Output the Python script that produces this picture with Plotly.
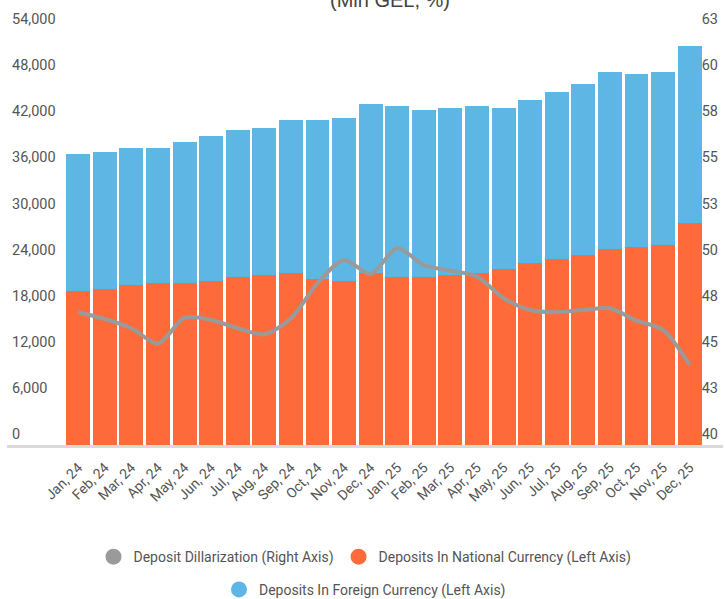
import plotly.graph_objects as go

months = [
    "Jan, 24", "Feb, 24", "Mar, 24", "Apr, 24", "May, 24", "Jun, 24",
    "Jul, 24", "Aug, 24", "Sep, 24", "Oct, 24", "Nov, 24", "Dec, 24",
    "Jan, 25", "Feb, 25", "Mar, 25", "Apr, 25", "May, 25", "Jun, 25",
    "Jul, 25", "Aug, 25", "Sep, 25", "Oct, 25", "Nov, 25", "Dec, 25",
]
national = [
    20040, 20300, 20820, 21080, 21080, 21340, 21860, 22120, 22380, 21600, 21340, 22380,
    21860, 21860, 22120, 22380, 22900, 23680, 24200, 24720, 25500, 25760, 26020, 28890,
]
foreign = [
    17830, 17830, 17830, 17570, 18350, 18870, 19130, 19130, 19910, 20690, 21210, 21990,
    22250, 21730, 21730, 21730, 20950, 21210, 21730, 22250, 23030, 22510, 22510, 23030,
]
dollarization = [
    47.2, 46.83, 46.33, 45.5, 46.9, 46.78, 46.33, 46.0, 46.87, 48.77, 50.03, 49.27,
    50.67, 49.76, 49.45, 49.13, 47.96, 47.32, 47.2, 47.32, 47.41, 46.74, 46.24, 44.34,
]

ORANGE = "#FF6A3A"
BLUE = "#5EB6E4"
GREY = "#9A9A9A"
FONT = "Roboto, sans-serif"
TXT = "#555555"

fig = go.Figure()
fig.add_trace(go.Bar(x=months, y=national, marker_color=ORANGE, marker_line_width=0,
                     showlegend=False, name="Deposits In National Currency (Left Axis)"))
fig.add_trace(go.Bar(x=months, y=foreign, marker_color=BLUE, marker_line_width=0,
                     showlegend=False, name="Deposits In Foreign Currency (Left Axis)"))
fig.add_trace(go.Scatter(x=months, y=dollarization, yaxis="y2", mode="lines",
                         line=dict(color=GREY, width=4, shape="spline", smoothing=0.8),
                         showlegend=False, name="Deposit Dillarization (Right Axis)"))

# legend entries drawn as round markers, split over two rows
for name, col, lg in [("Deposit Dillarization (Right Axis)", GREY, "legend"),
                      ("Deposits In National Currency (Left Axis)", ORANGE, "legend"),
                      ("Deposits In Foreign Currency (Left Axis)", BLUE, "legend2")]:
    fig.add_trace(go.Scatter(x=[None], y=[None], mode="markers", name=name, legend=lg,
                             marker=dict(color=col, size=16, symbol="circle")))

fig.add_annotation(text="(Mln GEL, %)", x=0.535, y=1, xref="paper", yref="paper",
                   yanchor="middle", yshift=30, showarrow=False,
                   font=dict(family="Liberation Sans, Arial", size=20, color="#444444"))

leg = dict(orientation="h", x=0.5, xanchor="center", yanchor="middle",
           traceorder="normal", font=dict(size=14, color=TXT), bgcolor="rgba(0,0,0,0)")

fig.update_layout(
    width=725, height=599,
    margin=dict(l=7, r=2, t=30, b=154, autoexpand=False),
    paper_bgcolor="white", plot_bgcolor="white",
    barmode="stack", bargap=0.1,
    font=dict(family=FONT, color=TXT, size=14),
    xaxis=dict(
        range=[-2.682, 24.255], tickangle=-45, showgrid=False, zeroline=False,
        showline=True, linecolor="#D9D9D9", linewidth=3, automargin=False,
        tickfont=dict(size=14, color=TXT), ticks="", ticklabelstandoff=6,
    ),
    yaxis=dict(
        range=[0, 54000], dtick=6000, tickformat=",", showgrid=False, zeroline=False,
        ticklabelposition="inside", ticklabeloverflow="allow", ticklabelshift=-11,
        ticklabelstandoff=2, tickfont=dict(size=14.5, color=TXT), automargin=False,
    ),
    yaxis2=dict(
        range=[40, 62.5], dtick=2.5, tickformat=".0f", overlaying="y", side="right",
        showgrid=False, zeroline=False, automargin=False,
        ticklabelposition="inside", ticklabeloverflow="allow", ticklabelshift=-11,
        ticklabelstandoff=2, tickfont=dict(size=14.5, color=TXT),
    ),
    legend=dict(leg, y=-0.27),
    legend2=dict(leg, y=-0.349),
)

# drop the default page margin so the figure sits at the window's corner
fig.write_html("out.html", config={"displayModeBar": False},
               post_script="document.body.style.margin='0';")
